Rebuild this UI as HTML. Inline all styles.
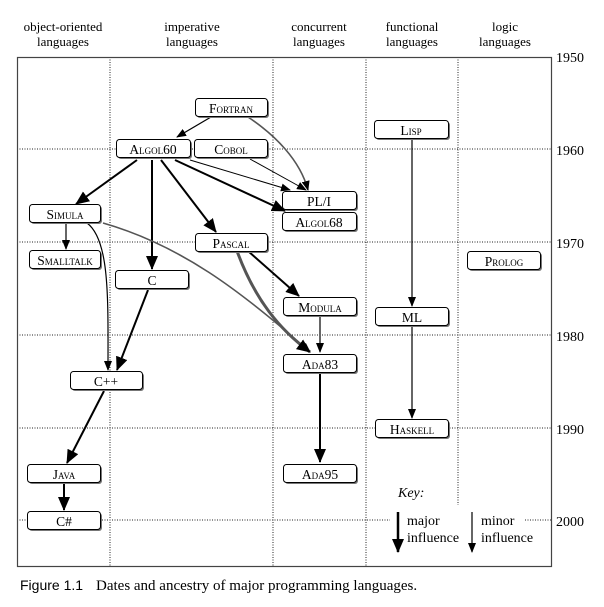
<!DOCTYPE html>
<html><head><style>
body{margin:0;background:#fff}
svg text{font-family:"Liberation Serif",serif;fill:#000}
.n{font-size:13.5px;font-variant:small-caps;text-anchor:middle}
.h{font-size:13px;text-anchor:middle}
</style></head><body>
<svg width="604" height="602" viewBox="0 0 604 602" xmlns="http://www.w3.org/2000/svg">
<defs>
<marker id="a" markerWidth="10" markerHeight="8" refX="9" refY="4" orient="auto" markerUnits="userSpaceOnUse"><path d="M0,0L10,4L0,8z" fill="#000"/></marker>
<marker id="b" markerWidth="14" markerHeight="12" refX="13" refY="6" orient="auto" markerUnits="userSpaceOnUse"><path d="M0,0L14,6L0,12z" fill="#000"/></marker>
</defs>
<g class="h">
<text x="63" y="31">object-oriented</text><text x="63" y="46">languages</text>
<text x="192" y="31">imperative</text><text x="192" y="46">languages</text>
<text x="319" y="31">concurrent</text><text x="319" y="46">languages</text>
<text x="412" y="31">functional</text><text x="412" y="46">languages</text>
<text x="505" y="31">logic</text><text x="505" y="46">languages</text>
</g>
<g font-size="14">
<text x="556" y="62">1950</text><text x="556" y="155">1960</text><text x="556" y="248">1970</text>
<text x="556" y="341">1980</text><text x="556" y="434">1990</text><text x="556" y="526">2000</text>
</g>
<g stroke="#222" stroke-width="1" stroke-dasharray="1,1.5">
<line x1="17" y1="149" x2="552" y2="149"/><line x1="17" y1="242" x2="552" y2="242"/>
<line x1="17" y1="335" x2="552" y2="335"/><line x1="17" y1="428" x2="552" y2="428"/>
<line x1="17" y1="520" x2="390" y2="520"/><line x1="525" y1="520" x2="552" y2="520"/>
<line x1="110" y1="57" x2="110" y2="566"/><line x1="273" y1="57" x2="273" y2="566"/>
<line x1="366" y1="57" x2="366" y2="566"/><line x1="458" y1="57" x2="458" y2="505"/>
</g>
<rect x="17.5" y="57.5" width="534" height="509" fill="none" stroke="#444" stroke-width="1.2"/>
<g fill="none" stroke="#000">
<path d="M211,117L177,137" stroke-width="1.2" marker-end="url(#a)"/>
<path d="M248,117C275,135 300,160 308,190" stroke="#555" stroke-width="1.6" marker-end="url(#a)"/>
<path d="M250,159L306,190" stroke-width="1" marker-end="url(#a)"/>
<path d="M190,160L290,190" stroke-width="1" marker-end="url(#a)"/>
<path d="M175,160L285,211" stroke-width="2" marker-end="url(#b)"/>
<path d="M137,160L76,204" stroke-width="2" marker-end="url(#b)"/>
<path d="M152,160L152,269" stroke-width="2" marker-end="url(#b)"/>
<path d="M161,160L216,232" stroke-width="2" marker-end="url(#b)"/>
<path d="M66,223L66,249" stroke-width="1.2" marker-end="url(#a)"/>
<path d="M87,223C110,240 108,300 108,370" stroke-width="1.2" marker-end="url(#a)"/>
<path d="M103,223C180,245 240,290 310,352" stroke="#555" stroke-width="1.6" marker-end="url(#a)"/>
<path d="M148,290L117,370" stroke-width="2" marker-end="url(#b)"/>
<path d="M104,391L67,463" stroke-width="2" marker-end="url(#b)"/>
<path d="M64,483L64,510" stroke-width="2" marker-end="url(#b)"/>
<path d="M237,251C255,300 280,330 310,352" stroke="#555" stroke-width="3" marker-end="url(#b)"/>
<path d="M248,251L299,296" stroke-width="2" marker-end="url(#b)"/>
<path d="M320,316L320,352" stroke-width="1.2" marker-end="url(#a)"/>
<path d="M320,373L320,462" stroke-width="2" marker-end="url(#b)"/>
<path d="M412,140L412,306" stroke-width="1.2" marker-end="url(#a)"/>
<path d="M412,326L412,418" stroke-width="1.2" marker-end="url(#a)"/>
<path d="M398,512L398,552" stroke-width="2.5" marker-end="url(#b)"/>
<path d="M472,512L472,552" stroke-width="1.2" marker-end="url(#a)"/>
</g>
<g font-size="14">
<text x="398" y="497" font-style="italic">Key:</text>
<text x="407" y="525">major</text><text x="407" y="542">influence</text>
<text x="481" y="525">minor</text><text x="481" y="542">influence</text>
</g>
<g>
<g fill="#777"><rect x="197" y="100" width="72" height="18" rx="3"/><rect x="118" y="141" width="74" height="18" rx="3"/><rect x="196" y="141" width="73" height="18" rx="3"/><rect x="284" y="193" width="74" height="18" rx="3"/><rect x="284" y="214" width="74" height="18" rx="3"/><rect x="31" y="206" width="71" height="18" rx="3"/><rect x="197" y="235" width="72" height="18" rx="3"/><rect x="31" y="252" width="71" height="18" rx="3"/><rect x="117" y="272" width="73" height="18" rx="3"/><rect x="376" y="122" width="74" height="18" rx="3"/><rect x="469" y="253" width="73" height="18" rx="3"/><rect x="285" y="299" width="73" height="18" rx="3"/><rect x="377" y="309" width="73" height="18" rx="3"/><rect x="285" y="356" width="73" height="18" rx="3"/><rect x="72" y="373" width="72" height="18" rx="3"/><rect x="377" y="421" width="73" height="18" rx="3"/><rect x="29" y="466" width="73" height="18" rx="3"/><rect x="285" y="466" width="73" height="18" rx="3"/><rect x="29" y="513" width="73" height="18" rx="3"/></g>
<g fill="#fff" stroke="#000"><rect x="195.5" y="98.5" width="72" height="18" rx="3"/><rect x="116.5" y="139.5" width="74" height="18" rx="3"/><rect x="194.5" y="139.5" width="73" height="18" rx="3"/><rect x="282.5" y="191.5" width="74" height="18" rx="3"/><rect x="282.5" y="212.5" width="74" height="18" rx="3"/><rect x="29.5" y="204.5" width="71" height="18" rx="3"/><rect x="195.5" y="233.5" width="72" height="18" rx="3"/><rect x="29.5" y="250.5" width="71" height="18" rx="3"/><rect x="115.5" y="270.5" width="73" height="18" rx="3"/><rect x="374.5" y="120.5" width="74" height="18" rx="3"/><rect x="467.5" y="251.5" width="73" height="18" rx="3"/><rect x="283.5" y="297.5" width="73" height="18" rx="3"/><rect x="375.5" y="307.5" width="73" height="18" rx="3"/><rect x="283.5" y="354.5" width="73" height="18" rx="3"/><rect x="70.5" y="371.5" width="72" height="18" rx="3"/><rect x="375.5" y="419.5" width="73" height="18" rx="3"/><rect x="27.5" y="464.5" width="73" height="18" rx="3"/><rect x="283.5" y="464.5" width="73" height="18" rx="3"/><rect x="27.5" y="511.5" width="73" height="18" rx="3"/></g>
<g class="n">
<text x="231" y="113">Fortran</text><text x="153" y="154">Algol60</text><text x="231" y="154">Cobol</text>
<text x="319" y="206">PL/I</text><text x="319" y="227">Algol68</text><text x="65" y="219">Simula</text>
<text x="231" y="248">Pascal</text><text x="65" y="265">Smalltalk</text><text x="152" y="285">C</text>
<text x="411" y="135">Lisp</text><text x="504" y="266">Prolog</text><text x="320" y="312">Modula</text>
<text x="412" y="322">ML</text><text x="320" y="369">Ada83</text><text x="106" y="386">C++</text>
<text x="412" y="434">Haskell</text><text x="64" y="479">Java</text><text x="320" y="479">Ada95</text>
<text x="64" y="526">C#</text>
</g>
</g>
<text x="20" y="590" font-size="14" style="font-family:'Liberation Sans',sans-serif">Figure 1.1</text>
<text x="96" y="590" font-size="15">Dates and ancestry of major programming languages.</text>
</svg>
</body></html>
